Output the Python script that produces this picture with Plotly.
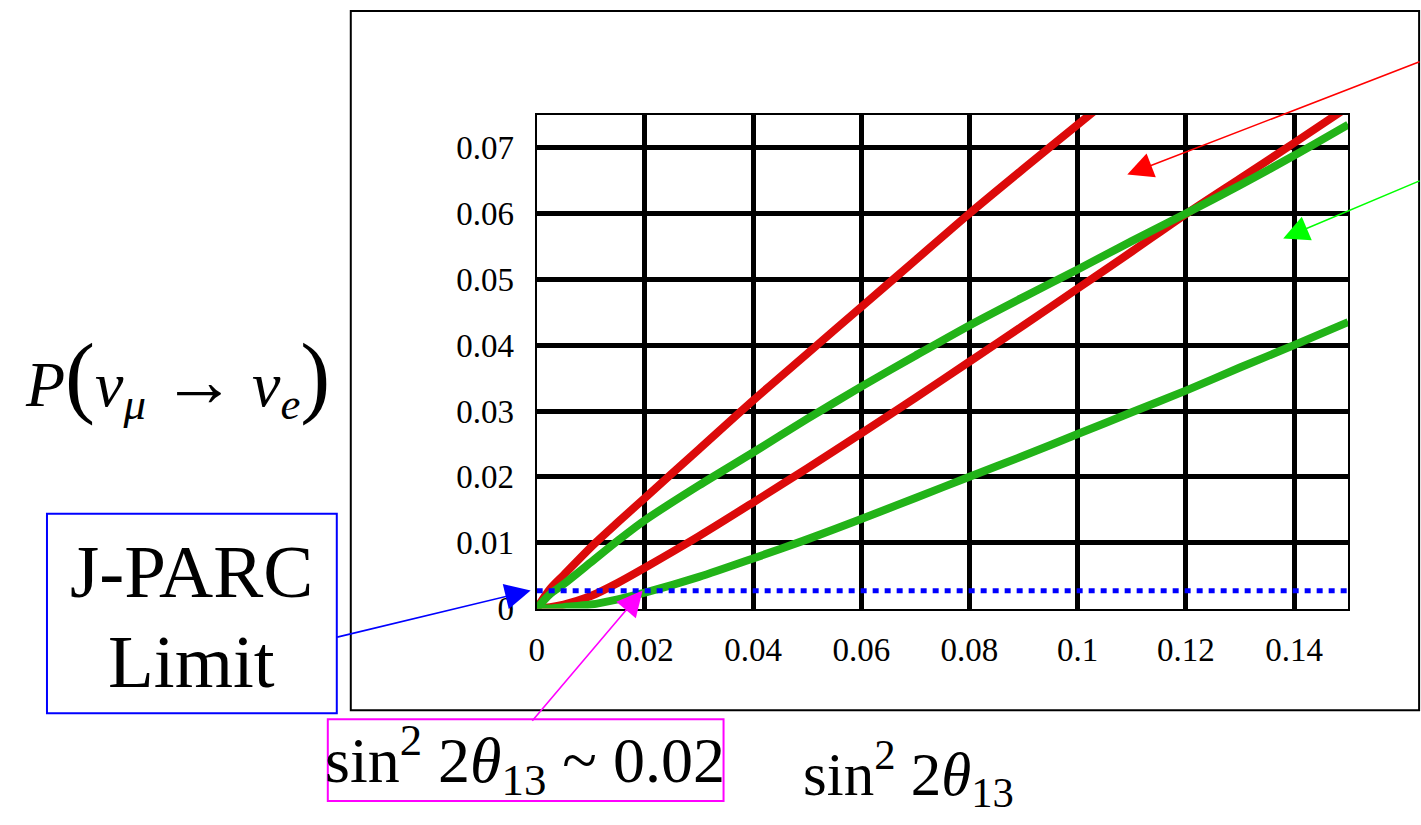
import plotly.graph_objects as go

W, H = 1421, 842
REF_W, REF_H = 1421, 825

# ---- data ----
s_vals = [0, 0.0025, 0.005, 0.01, 0.015, 0.02, 0.03, 0.04, 0.05, 0.06, 0.07,
          0.08, 0.09, 0.1, 0.11, 0.12, 0.13, 0.14, 0.15]
red_upper = [0, 0.0030, 0.0051, 0.0093, 0.0131, 0.0168, 0.0242, 0.0316, 0.0387,
             0.0458, 0.0529, 0.0600, 0.0668, 0.0735, 0.0802, 0.0870, 0.0938, 0.1006, 0.1074]
red_lower = [0, 0.0002, 0.0006, 0.0019, 0.0039, 0.0062, 0.0110, 0.0161, 0.0213,
             0.0266, 0.0320, 0.0375, 0.0430, 0.0486, 0.0542, 0.0599, 0.0653, 0.0707, 0.0762]
green_upper = [0, 0.0022, 0.0037, 0.0070, 0.0103, 0.0134, 0.0187, 0.0237, 0.0288,
               0.0337, 0.0384, 0.0430, 0.0473, 0.0515, 0.0558, 0.0600, 0.0643, 0.0688, 0.0735]
green_lower = [0, 0.0000, 0.0002, 0.0006, 0.0014, 0.0024, 0.0048, 0.0076, 0.0105,
               0.0136, 0.0168, 0.0200, 0.0232, 0.0265, 0.0298, 0.0331, 0.0366, 0.0400, 0.0435]
limit_x = [0, 0.15]
limit_y = [0.0027, 0.0027]

x_ticks = [0, 0.02, 0.04, 0.06, 0.08, 0.1, 0.12, 0.14]
x_ticktext = ["0", "0.02", "0.04", "0.06", "0.08", "0.1", "0.12", "0.14"]
y_ticks = [0, 0.01, 0.02, 0.03, 0.04, 0.05, 0.06, 0.07]
y_ticktext = ["0", "0.01", "0.02", "0.03", "0.04", "0.05", "0.06", "0.07"]

SERIF = "Liberation Serif, Times New Roman, serif"
RED = "#DC0A0A"
GREEN = "#22B318"
YS = H / REF_H
XS = 1 / 0.995


def px(x):
    return (x - 7) * XS / W


def py(y):
    return 1 - y / REF_H


fig = go.Figure()
for ys, col in [(red_upper, RED), (red_lower, RED), (green_upper, GREEN), (green_lower, GREEN)]:
    fig.add_trace(go.Scatter(x=s_vals, y=ys, mode="lines",
                             line=dict(color=col, width=8, shape="spline", smoothing=0.8),
                             showlegend=False, hoverinfo="skip"))
fig.add_trace(go.Scatter(x=limit_x, y=limit_y, mode="lines",
                         line=dict(color="#0000FF", width=5, dash="6px,6px"),
                         showlegend=False, hoverinfo="skip"))

fig.update_layout(
    width=W, height=H, margin=dict(l=0, r=0, t=0, b=0),
    paper_bgcolor="white", plot_bgcolor="white",
    font=dict(family=SERIF, color="black"),
    xaxis=dict(domain=[px(536), px(1348)], range=[0, 0.15], tickvals=x_ticks, ticktext=x_ticktext,
               showgrid=True, gridcolor="black", gridwidth=4.5, zeroline=False,
               showline=True, linecolor="black", linewidth=2, mirror=True,
               ticks="outside", ticklen=11, tickcolor="rgba(0,0,0,0)",
               tickfont=dict(size=33, family=SERIF, color="black")),
    yaxis=dict(domain=[py(610), py(115)], range=[0, 0.075], tickvals=y_ticks, ticktext=y_ticktext,
               showgrid=True, gridcolor="black", gridwidth=4.5, zeroline=True,
               zerolinecolor="black", zerolinewidth=4.5,
               showline=True, linecolor="black", linewidth=2, mirror=True,
               ticks="outside", ticklen=14, tickcolor="rgba(0,0,0,0)",
               tickfont=dict(size=33, family=SERIF, color="black")),
)

shapes = [
    dict(type="rect", xref="paper", yref="paper", x0=px(350), x1=px(1419), y0=py(712), y1=py(11),
         line=dict(color="black", width=2), layer="below"),
    dict(type="rect", xref="paper", yref="paper", x0=px(46), x1=px(336), y0=py(715), y1=py(515),
         line=dict(color="#0000FF", width=2)),
    dict(type="rect", xref="paper", yref="paper", x0=px(327), x1=px(723), y0=py(803), y1=py(721),
         line=dict(color="#FF00FF", width=2)),
]
fig.update_layout(shapes=shapes)

ann = []
ann.append(dict(xref="paper", yref="paper", x=px(191), y=py(573), text="J-PARC", showarrow=False,
                font=dict(size=75, family=SERIF, color="black"), xanchor="center", yanchor="middle"))
ann.append(dict(xref="paper", yref="paper", x=px(191), y=py(663), text="Limit", showarrow=False,
                font=dict(size=75, family=SERIF, color="black"), xanchor="center", yanchor="middle"))
ann.append(dict(xref="paper", yref="paper", x=px(524), y=py(762),
                text="sin<sup>2</sup> 2<i>θ</i><sub>13</sub> ~ 0.02", showarrow=False,
                font=dict(size=64, family=SERIF, color="black"), xanchor="center", yanchor="middle"))
ann.append(dict(xref="paper", yref="paper", x=px(908), y=py(775),
                text="sin<sup>2</sup> 2<i>θ</i><sub>13</sub>", showarrow=False,
                font=dict(size=61, family=SERIF, color="black"), xanchor="center", yanchor="middle"))
ann.append(dict(xref="paper", yref="paper", x=px(177), y=py(378),
                text="<i>P</i><span style='font-size:90px'>(</span><i>ν</i><sub><i>μ</i></sub> <span style='font-size:74px'>→</span> <i>ν</i><sub><i>e</i></sub><span style='font-size:90px'>)</span>",
                showarrow=False, font=dict(size=64, family=SERIF, color="black"),
                xanchor="center", yanchor="middle"))

arrows = [(1127, 175, 1421, 64, "#FF0000"),
          (1283, 239, 1421, 182, "#00FF00"),
          (530, 592, 336, 638, "#0000FF"),
          (642, 592, 531, 721, "#FF00FF")]
for hx, hy, tx, ty, col in arrows:
    ann.append(dict(xref="paper", yref="paper", x=px(hx), y=py(hy), ax=(tx - hx) * XS, ay=(ty - hy) * YS,
                    axref="pixel", ayref="pixel", text="", showarrow=True,
                    arrowhead=2, arrowsize=3.2, arrowwidth=1.6, arrowcolor=col, standoff=0))
fig.update_layout(annotations=ann)

fig.write_html("out.html")
